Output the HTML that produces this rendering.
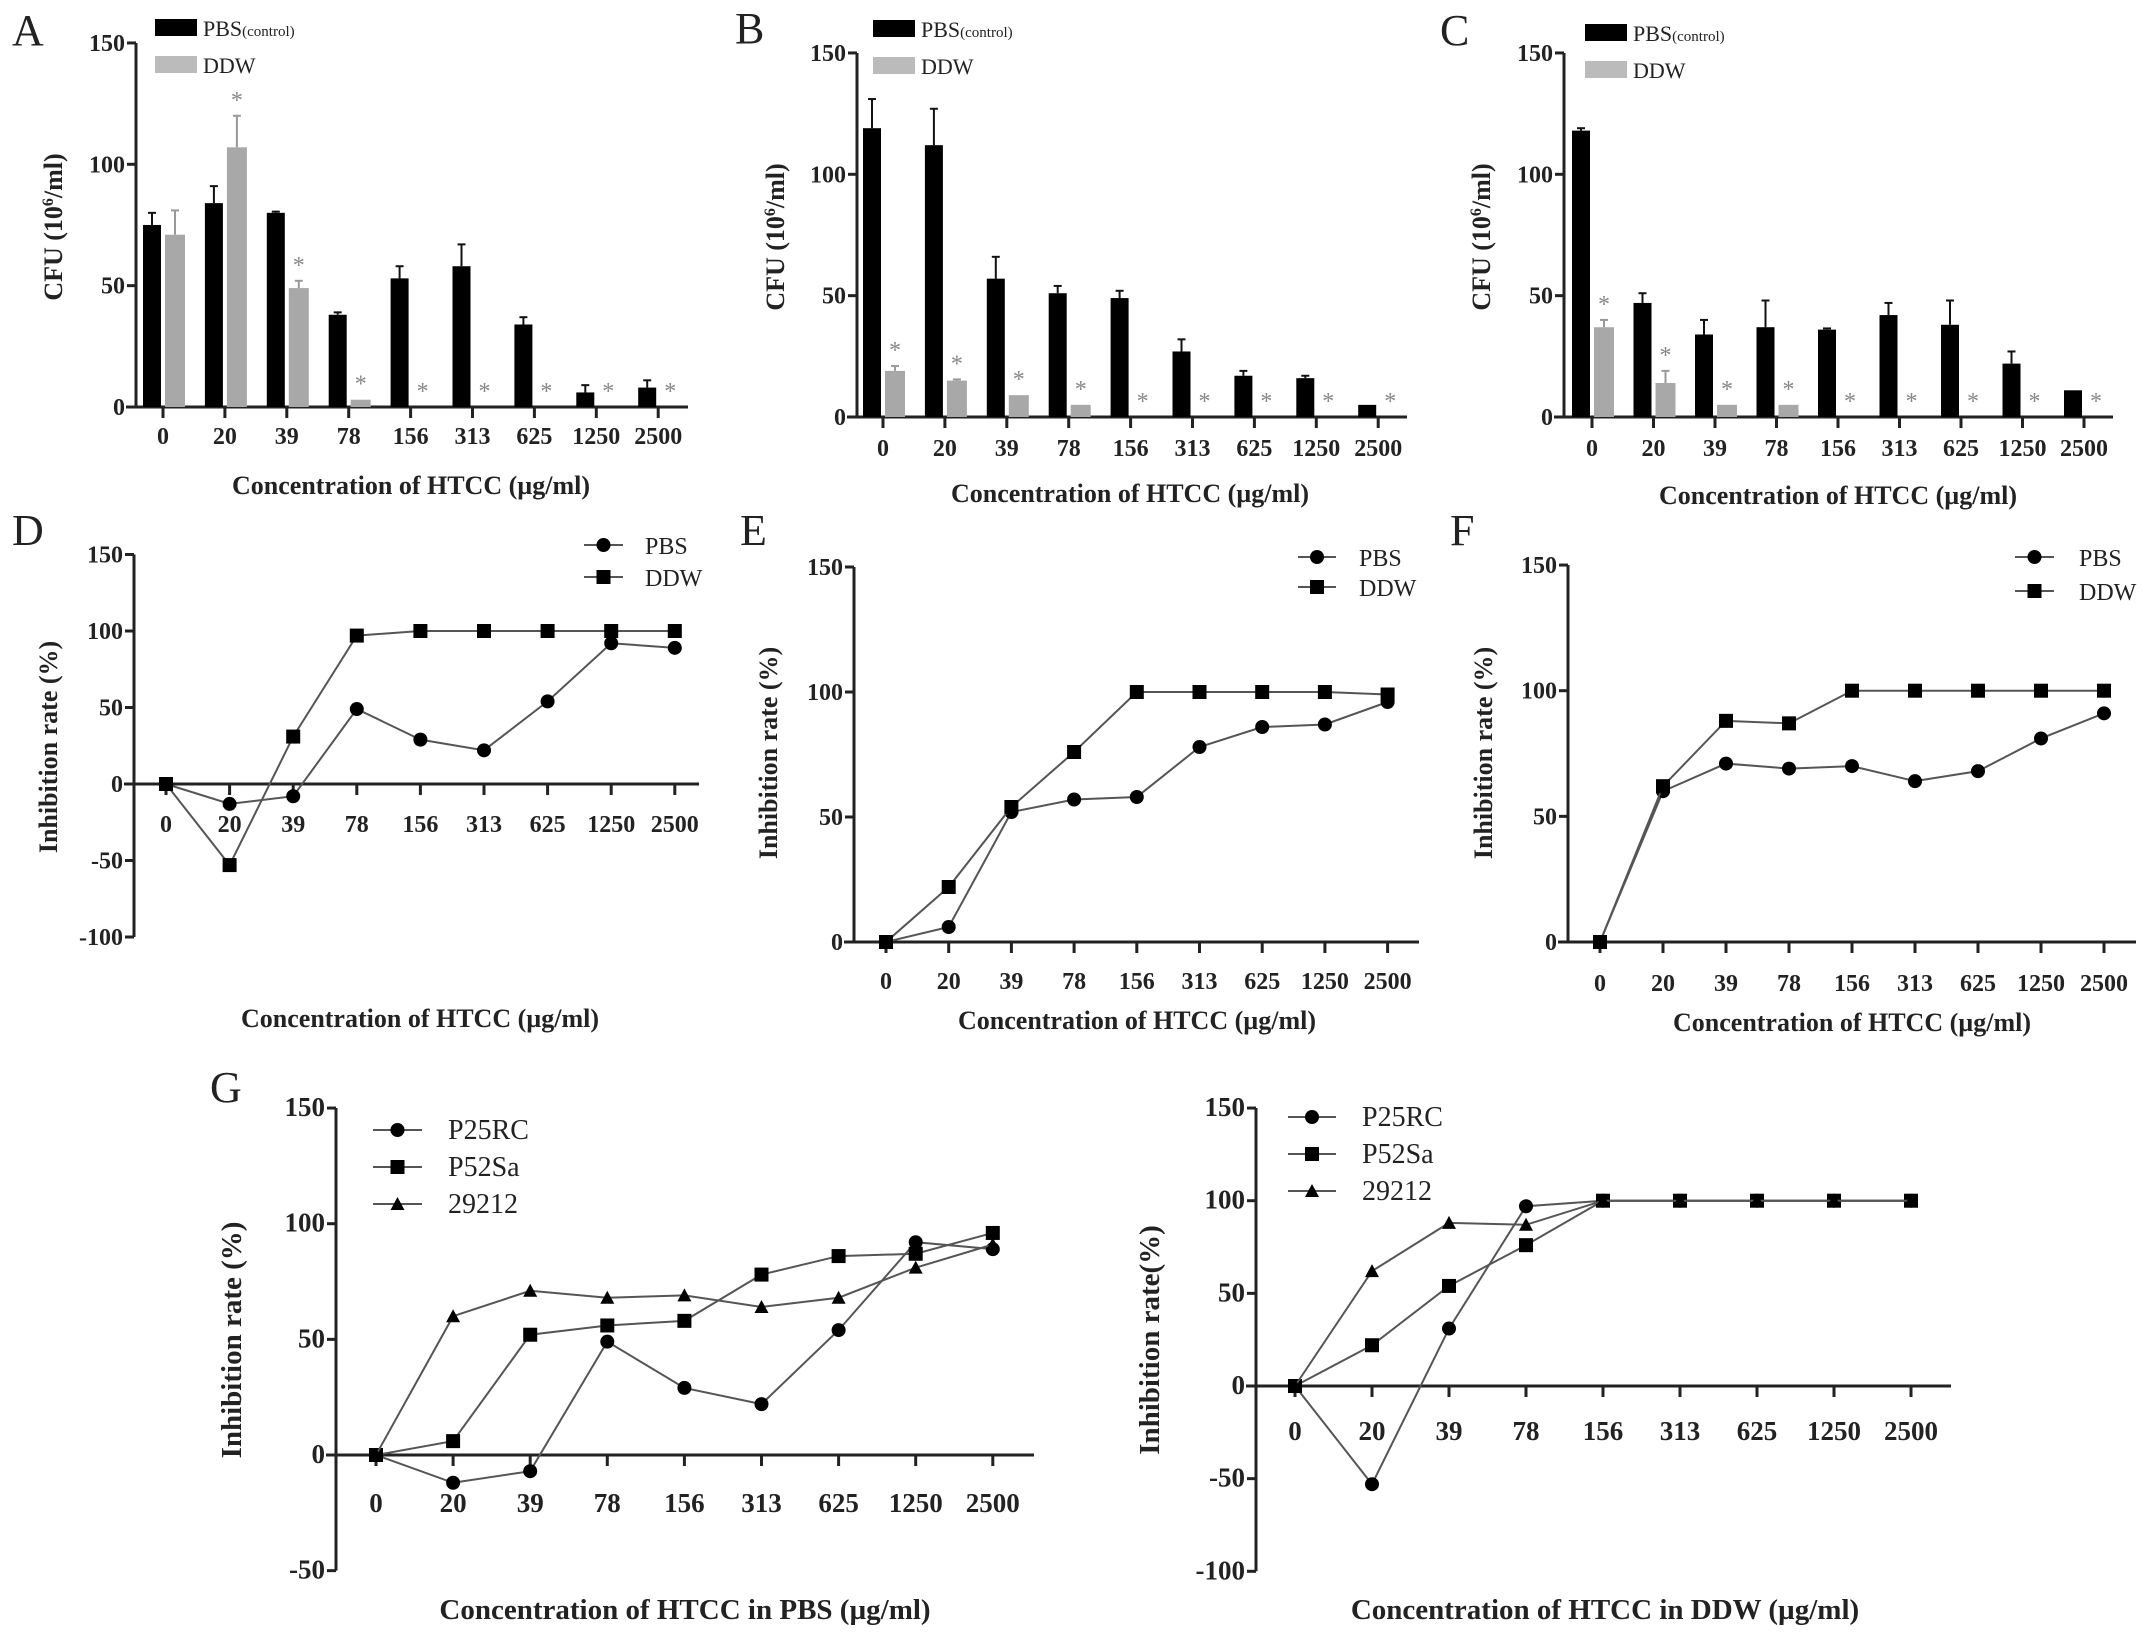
<!DOCTYPE html>
<html><head><meta charset="utf-8"><style>
html,body{margin:0;padding:0;background:#fff}
svg{display:block}
text{font-family:"Liberation Serif",serif;fill:#222}
</style></head><body>
<svg id="fig" width="2150" height="1636" viewBox="0 0 2150 1636" xmlns="http://www.w3.org/2000/svg"></svg>
<script>
const concLabels=['0','20','39','78','156','313','625','1250','2500'];
// Panel A
const aPbs=[75,84,80,38,53,58,34,6,8];
const aPbsErr=[5,7,0.5,1,5,9,3,3,3];
const aDdw=[71,107,49,3,0,0,0,0,0];
const aDdwErr=[10,13,3,0,0,0,0,0,0];
const aStars=[0,1,1,1,1,1,1,1,1];
// Panel B
const bPbs=[119,112,57,51,49,27,17,16,5];
const bPbsErr=[12,15,9,3,3,5,2,1,0];
const bDdw=[19,15,9,5,0,0,0,0,0];
const bDdwErr=[2,0.5,0,0,0,0,0,0,0];
const bStars=[1,1,1,1,1,1,1,1,1];
// Panel C
const cPbs=[118,47,34,37,36,42,38,22,11];
const cPbsErr=[1,4,6,11,0.5,5,10,5,0];
const cDdw=[37,14,5,5,0,0,0,0,0];
const cDdwErr=[3,5,0,0,0,0,0,0,0];
const cStars=[1,1,1,1,1,1,1,1,1];
// Panel D
const dPbs=[0,-13,-8,49,29,22,54,92,89];
const dDdw=[0,-53,31,97,100,100,100,100,100];
// Panel E
const ePbs=[0,6,52,57,58,78,86,87,96];
const eDdw=[0,22,54,76,100,100,100,100,99];
// Panel F
const fPbs=[0,60,71,69,70,64,68,81,91];
const fDdw=[0,62,88,87,100,100,100,100,100];
// Panel G (PBS)
const gPbsP25=[0,-12,-7,49,29,22,54,92,89];
const gPbsP52=[0,6,52,56,58,78,86,87,96];
const gPbs292=[0,60,71,68,69,64,68,81,91];
// Panel G (DDW)
const gDdwP25=[0,-53,31,97,100,100,100,100,100];
const gDdwP52=[0,22,54,76,100,100,100,100,100];
const gDdw292=[0,62,88,87,100,100,100,100,100];

const NS='http://www.w3.org/2000/svg';
const svg=document.getElementById('fig');
function mk(tag,attrs,parent,txt){const e=document.createElementNS(NS,tag);for(const k in attrs)e.setAttribute(k,attrs[k]);if(txt!==undefined)e.textContent=txt;(parent||svg).appendChild(e);return e;}
function grp(name){const g=mk('g',{});return g;}

function axes(g,c,yTicks){
  const ys=v=>c.y0-v*c.k;
  const yTop=ys(yTicks[yTicks.length-1]), yBot=ys(yTicks[0]);
  const ya=mk('line',{x1:c.ax,y1:yTop,x2:c.ax,y2:yBot,stroke:'#222','stroke-width':3},g);
  
  
  yTicks.forEach(v=>{
    mk('line',{x1:c.ax-9,y1:ys(v),x2:c.ax,y2:ys(v),stroke:'#222','stroke-width':3},g);
    const t=mk('text',{x:c.ax-11,y:ys(v)+8,'text-anchor':'end','font-size':c.fs||24,'font-weight':'bold'},g,String(v));
    
    
  });
  const xa=mk('line',{x1:c.ax-10,y1:c.y0,x2:c.xEnd,y2:c.y0,stroke:'#222','stroke-width':3},g);
  
  
  concLabels.forEach((l,i)=>{
    const x=c.x0+i*c.dx;
    mk('line',{x1:x,y1:c.y0,x2:x,y2:c.y0+11,stroke:'#222','stroke-width':3},g);
    const t=mk('text',{x:x,y:c.lblY+9,'text-anchor':'middle','font-size':c.fs||24,'font-weight':'bold'},g,l);
    
    
  });
  const xt=mk('text',{x:c.xtX,y:c.xtY+9,'text-anchor':'middle','font-size':c.tfs||26,'font-weight':'bold'},g,c.xTitle);
  
  
  const yt=mk('text',{x:0,y:0,'text-anchor':'middle','font-size':c.tfs||26,'font-weight':'bold',transform:`translate(${c.ytX+9},${c.ytY}) rotate(-90)`},g);
  
  
  if(c.yTitleSup){yt.textContent='CFU (10';const s=mk('tspan',{'font-size':16,dy:-9},yt,'6');mk('tspan',{dy:9},yt,'/ml)');}
  else yt.textContent=c.yTitle;
  const pl=mk('text',{x:c.letX,y:c.letY,'font-size':44},g,c.letter);
  
  
  return ys;
}

function barPanel(name,c,pbs,pbsErr,ddw,ddwErr,stars){
  const g=grp(name);
  const ys=axes(g,c,[0,50,100,150]);
  pbs.forEach((v,i)=>{
    const t=c.x0+i*c.dx;
    if(pbsErr[i]>0){mk('line',{x1:t-11,y1:ys(v),x2:t-11,y2:ys(v+pbsErr[i]),stroke:'#111','stroke-width':2},g);
      mk('line',{x1:t-15,y1:ys(v+pbsErr[i]),x2:t-7,y2:ys(v+pbsErr[i]),stroke:'#111','stroke-width':2},g);}
    const r=mk('rect',{x:t-20,y:ys(v),width:18,height:c.y0-ys(v),fill:'#000'},g);
    
    
  });
  ddw.forEach((v,i)=>{
    const t=c.x0+i*c.dx;
    if(ddwErr[i]>0){mk('line',{x1:t+12,y1:ys(v),x2:t+12,y2:ys(v+ddwErr[i]),stroke:'#999','stroke-width':2},g);
      mk('line',{x1:t+8,y1:ys(v+ddwErr[i]),x2:t+16,y2:ys(v+ddwErr[i]),stroke:'#999','stroke-width':2},g);}
    if(v>0){const r=mk('rect',{x:t+2,y:ys(v),width:20,height:c.y0-ys(v),fill:'#a8a8a8'},g);
      
      }
    if(stars[i]){const s=mk('text',{x:t+12,y:ys(v+ddwErr[i])-8,'text-anchor':'middle','font-size':24,fill:'#888',style:'fill:#888'},g,'*');
      
      }
  });
  const l1=mk('rect',{x:c.legX,y:c.legY1,width:42,height:17,fill:'#000'},g);
  
  
  const t1=mk('text',{x:c.legX+48,y:c.legY1+17,'font-size':22},g);
  
  
  t1.textContent='PBS';mk('tspan',{'font-size':15},t1,'(control)');
  const l2=mk('rect',{x:c.legX,y:c.legY2,width:42,height:17,fill:'#bbb'},g);
  
  
  const t2=mk('text',{x:c.legX+48,y:c.legY2+17,'font-size':22},g,'DDW');
  
  
}

function marker(g,type,x,y,s){
  s=s||1;
  if(type==='circle')return mk('circle',{cx:x,cy:y,r:7*s,fill:'#000'},g);
  if(type==='square')return mk('rect',{x:x-7*s,y:y-7*s,width:14*s,height:14*s,fill:'#000'},g);
  return mk('polygon',{points:`${x},${y-7*s} ${x-7*s},${y+6*s} ${x+7*s},${y+6*s}`,fill:'#000'},g);
}

function linePanel(name,c,yTicks,series){
  const g=grp(name);
  const ys=axes(g,c,yTicks);
  series.forEach(se=>{
    const pts=se.data.map((v,i)=>(c.x0+i*c.dx)+','+ys(v)).join(' ');
    const p=mk('polyline',{points:pts,fill:'none',stroke:'#555','stroke-width':2},g);
    
    
    se.data.forEach((v,i)=>{
      const m=marker(g,se.marker,c.x0+i*c.dx,ys(v),c.ms);
      
      
    });
  });
  series.forEach((se,j)=>{
    const y=c.legY[j];
    const l=mk('line',{x1:c.legX,y1:y,x2:c.legX+c.legW,y2:y,stroke:'#555','stroke-width':2},g);
    
    
    marker(g,se.marker,c.legX+c.legW/2,y,c.ms);
    const t=mk('text',{x:c.legTX,y:y+9,'font-size':c.lfs||24},g,se.label);
    
    
  });
}

const cfuTitle='Concentration of HTCC  (\u00b5g/ml)';
barPanel('panel-a',{ax:136,y0:407,k:2.427,x0:163,dx:61.9,xEnd:688,lblY:435,xtX:411,xtY:485,xTitle:cfuTitle,ytX:53,ytY:227,yTitleSup:true,letter:'A',letX:12,letY:45,legX:155,legY1:19,legY2:56},aPbs,aPbsErr,aDdw,aDdwErr,aStars);
barPanel('panel-b',{ax:857,y0:417,k:2.427,x0:883,dx:61.9,xEnd:1407,lblY:447,xtX:1130,xtY:493,xTitle:cfuTitle,ytX:775,ytY:237,yTitleSup:true,letter:'B',letX:735,letY:43,legX:873,legY1:20,legY2:57},bPbs,bPbsErr,bDdw,bDdwErr,bStars);
barPanel('panel-c',{ax:1564,y0:417,k:2.427,x0:1592,dx:61.5,xEnd:2113,lblY:447,xtX:1838,xtY:495,xTitle:cfuTitle,ytX:1481,ytY:237,yTitleSup:true,letter:'C',letX:1440,letY:45,legX:1585,legY1:24,legY2:61},cPbs,cPbsErr,cDdw,cDdwErr,cStars);

const inhTitle='Inhibition rate (%)';
linePanel('panel-d',{ax:134,y0:784,k:1.53,x0:166,dx:63.6,xEnd:699,lblY:823,xtX:420,xtY:1018,xTitle:cfuTitle,ytX:48,ytY:747,yTitle:inhTitle,letter:'D',letX:12,letY:545,legX:584,legW:39,legY:[545,577],legTX:645,ms:1},
  [-100,-50,0,50,100,150],[{key:'pbs',label:'PBS',marker:'circle',data:dPbs},{key:'ddw',label:'DDW',marker:'square',data:dDdw}]);
linePanel('panel-e',{ax:854,y0:942,k:2.5,x0:886,dx:62.7,xEnd:1419,lblY:980,xtX:1137,xtY:1020,xTitle:cfuTitle,ytX:768,ytY:753,yTitle:inhTitle,letter:'E',letX:740,letY:545,legX:1298,legW:38,legY:[557,587],legTX:1359,ms:1},
  [0,50,100,150],[{key:'pbs',label:'PBS',marker:'circle',data:ePbs},{key:'ddw',label:'DDW',marker:'square',data:eDdw}]);
linePanel('panel-f',{ax:1568,y0:942,k:2.513,x0:1600,dx:63,xEnd:2136,lblY:982,xtX:1852,xtY:1022,xTitle:cfuTitle,ytX:1483,ytY:753,yTitle:inhTitle,letter:'F',letX:1450,letY:545,legX:2015,legW:39,legY:[557,591],legTX:2079,ms:1},
  [0,50,100,150],[{key:'pbs',label:'PBS',marker:'circle',data:fPbs},{key:'ddw',label:'DDW',marker:'square',data:fDdw}]);
linePanel('panel-g-pbs',{ax:336,y0:1455,k:2.313,x0:376,dx:77.1,xEnd:1034,lblY:1503,xtX:685,xtY:1610,xTitle:'Concentration of HTCC in PBS (\u00b5g/ml)',ytX:232,ytY:1340,yTitle:inhTitle,letter:'G',letX:210,letY:1102,legX:373,legW:49,legY:[1130,1167,1204],legTX:448,ms:1,fs:27,tfs:29,lfs:28},
  [-50,0,50,100,150],[{key:'p25rc',label:'P25RC',marker:'circle',data:gPbsP25},{key:'p52sa',label:'P52Sa',marker:'square',data:gPbsP52},{key:'29212',label:'29212',marker:'triangle',data:gPbs292}]);
linePanel('panel-g-ddw',{ax:1256,y0:1386,k:1.853,x0:1295,dx:77,xEnd:1951,lblY:1431,xtX:1605,xtY:1610,xTitle:'Concentration of HTCC in DDW (\u00b5g/ml)',ytX:1150,ytY:1340,yTitle:'Inhibition rate(%)',letter:'',letX:0,letY:0,legX:1288,legW:48,legY:[1117,1154,1191],legTX:1362,ms:1,fs:27,tfs:29,lfs:28},
  [-100,-50,0,50,100,150],[{key:'p25rc',label:'P25RC',marker:'circle',data:gDdwP25},{key:'p52sa',label:'P52Sa',marker:'square',data:gDdwP52},{key:'29212',label:'29212',marker:'triangle',data:gDdw292}]);
</script>
</body></html>
